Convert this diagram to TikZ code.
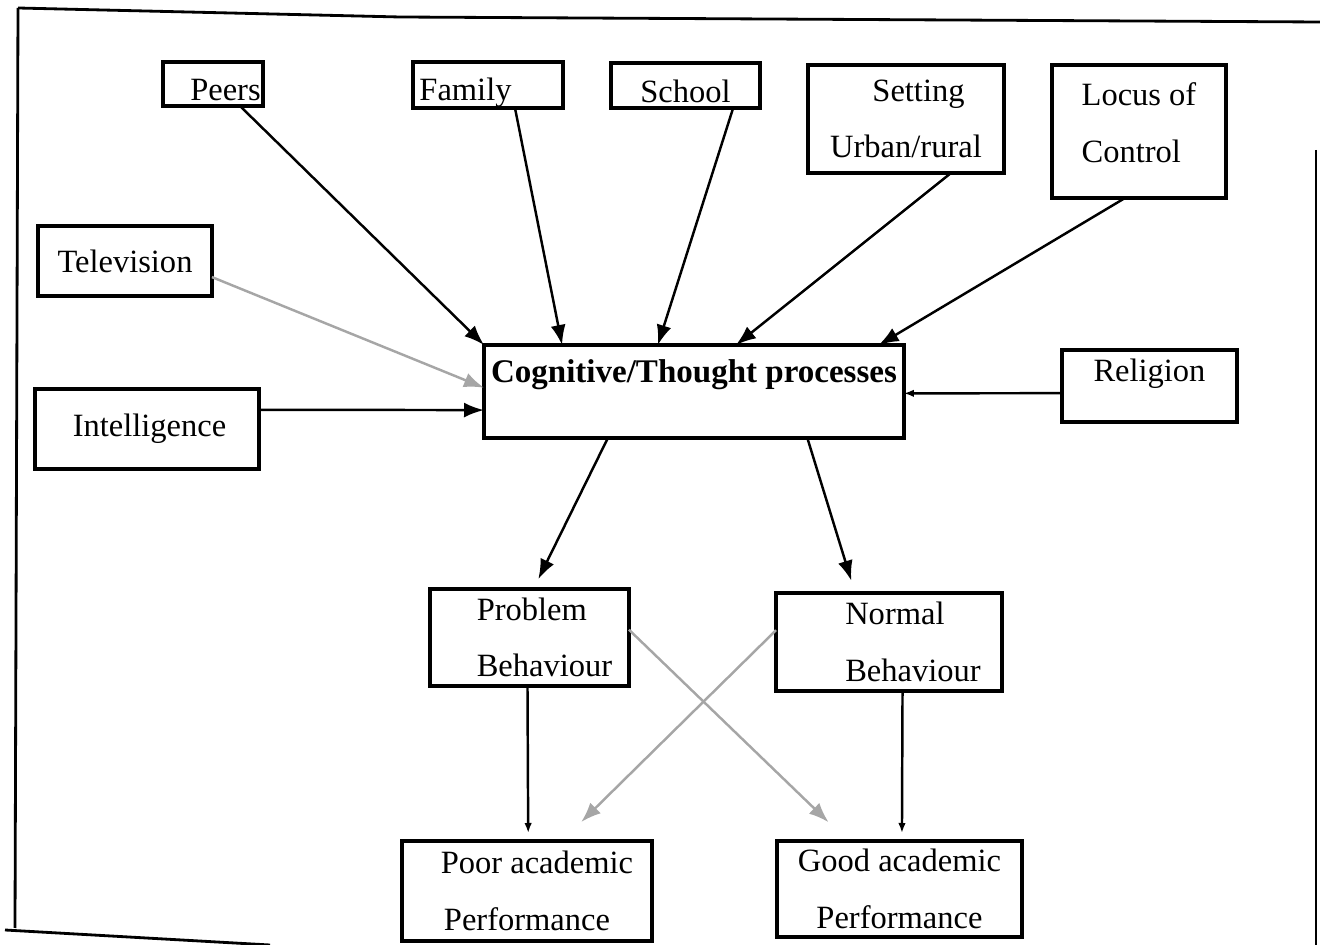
\documentclass[tikz,border=0pt]{standalone}
\usepackage{fontspec}
\setmainfont{Liberation Serif}
\usetikzlibrary{arrows.meta,calc}
\begin{document}
\begin{tikzpicture}[x=0.02cm, y=-0.02cm, thick,
    factor/.style = {draw, line width=2pt, inner sep=0pt, outer sep=0pt, anchor=north west, align=center, font=\fontsize{18.5}{32}\selectfont},
    link/.style = {-{Latex[length=0.4cm, width=0.3cm]}, line width=1.4pt},
    faint/.style = {link, gray!70},
    frame/.style = {line width=1.6pt}]
    \useasboundingbox (0,0) rectangle (1320,945);
    % scanned frame
    \draw[frame] (18,8) -- (400,17) -- (1320,22);
    \draw[frame] (18,8) -- (15,928);
    \draw[frame] (5,930) -- (270,945);
    \draw[frame] (1316,150) -- (1316,945);
    % influences
    \node[factor, minimum width=2cm, text height=0.78cm, text depth=0.1cm] (peers) at (163,62) {\hspace{0.5cm}Peers};
    \node[factor, minimum width=3cm, text height=0.78cm, text depth=0.14cm] (family) at (413,62) {Family\hspace{0.9cm}};
    \node[factor, minimum width=2.98cm, text height=0.8cm, text depth=0.1cm] (school) at (611,63) {School};
    \node[factor, minimum width=3.92cm, minimum height=2.16cm] (setting) at (808,65) {\hspace{0.5cm}Setting\\Urban/rural};
    \node[factor, minimum width=3.48cm, minimum height=2.66cm, align=left] (locus) at (1052,65) {Locus of\\Control\\[-0.77cm]};
    \node[factor, minimum width=3.48cm, minimum height=1.4cm] (tv) at (38,226) {Television};
    \node[factor, minimum width=4.48cm, minimum height=1.6cm] (intel) at (35,389) {\hspace{0.1cm}Intelligence};
    \node[factor, minimum width=3.5cm, text height=0.64cm, text depth=0.8cm] (religion) at (1062,350) {Religion};
    % central box
    \node[factor, minimum width=8.4cm, text height=0.76cm, text depth=1.1cm, font=\fontsize{18.8}{32}\selectfont\bfseries] (cog) at (484,345) {Cognitive/Thought processes};
    % behaviour and outcomes
    \node[factor, minimum width=3.98cm, minimum height=1.94cm, align=left] (problem) at (430,589) {\hspace{0.6cm}Problem\\\hspace{0.6cm}Behaviour};
    \node[factor, minimum width=4.52cm, minimum height=1.96cm, align=left] (normal) at (776,593) {\hspace{0.96cm}Normal\\\hspace{0.96cm}Behaviour};
    \node[factor, minimum width=5cm, minimum height=2cm] (poor) at (402,841) {\hspace{0.4cm}Poor academic\\Performance};
    \node[factor, minimum width=4.9cm, minimum height=1.92cm] (good) at (777,841) {Good academic\\Performance};
    % arrows into the central box
    \draw[link] ($(peers.south west)!0.77!(peers.south east)$) -- (cog.north west);
    \draw[link] ($(family.south west)!0.68!(family.south east)$) -- ($(cog.north west)!0.186!(cog.north east)$);
    \draw[link] ($(school.south west)!0.82!(school.south east)$) -- ($(cog.north west)!0.414!(cog.north east)$);
    \draw[link] ($(setting.south west)!0.73!(setting.south east)$) -- ($(cog.north west)!0.6!(cog.north east)$);
    \draw[link] ($(locus.south west)!0.42!(locus.south east)$) -- ($(cog.north west)!0.94!(cog.north east)$);
    \draw[faint] ($(tv.north east)!0.73!(tv.south east)$) -- ($(cog.north west)!0.46!(cog.south west)$);
    \draw[link] ($(intel.north east)!0.26!(intel.south east)$) -- ($(cog.north west)!0.7!(cog.south west)$);
    \draw[link, -{Latex[length=0.2cm, width=0.15cm]}] ($(religion.north west)!0.6!(religion.south west)$) -- ($(cog.north east)!0.52!(cog.south east)$);
    % arrows out of the central box
    \draw[link, shorten >=0.22cm] ($(cog.south west)!0.295!(cog.south east)$) -- ($(problem.north west)!0.52!(problem.north east)$);
    \draw[link, shorten >=0.26cm] ($(cog.south west)!0.77!(cog.south east)$) -- ($(normal.north west)!0.35!(normal.north east)$);
    % behaviour to performance
    \draw[link, -{Latex[length=0.2cm, width=0.15cm]}, shorten >=0.16cm] ($(problem.south west)!0.49!(problem.south east)$) -- ($(poor.north west)!0.505!(poor.north east)$);
    \draw[link, -{Latex[length=0.2cm, width=0.15cm]}, shorten >=0.16cm] ($(normal.south west)!0.56!(normal.south east)$) -- ($(good.north west)!0.51!(good.north east)$);
    \draw[faint, shorten >=0.54cm] ($(problem.north east)!0.42!(problem.south east)$) -- ($(good.north west)!0.29!(good.north east)$);
    \draw[faint, shorten >=0.54cm] ($(normal.north west)!0.38!(normal.south west)$) -- ($(poor.north west)!0.64!(poor.north east)$);
\end{tikzpicture}
\end{document}
